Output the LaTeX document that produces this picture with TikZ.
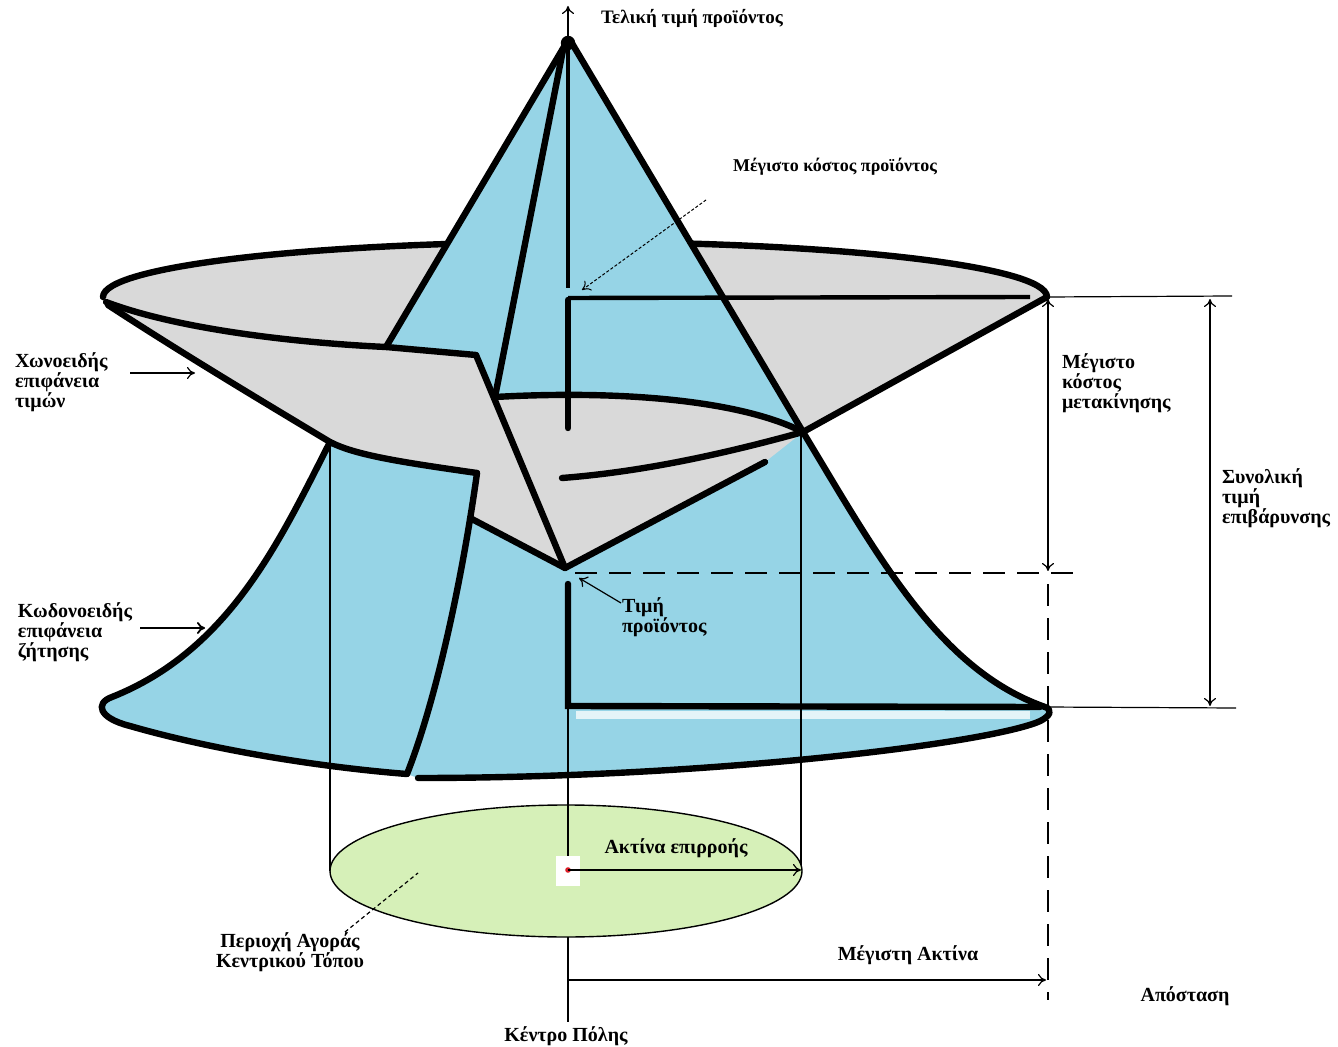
\documentclass[tikz,border=0pt]{standalone}
\usepackage{fontspec}
\setmainfont{Liberation Serif}
\usetikzlibrary{arrows.meta}
\definecolor{coneblue}{RGB}{150,212,230}
\definecolor{fungray}{RGB}{217,217,217}
\definecolor{areagreen}{RGB}{214,240,184}
\definecolor{dotred}{RGB}{220,30,40}
\begin{document}
\begin{tikzpicture}[x=0.5pt,y=-0.5pt,
  every node/.style={inner sep=0pt, outer sep=0pt},
  lbl/.style={font=\bfseries\fontsize{10}{10}\selectfont},
  lblL/.style={lbl, align=left, anchor=west},
  lblC/.style={lbl, align=center},
  heavy/.style={line width=3.2pt, line cap=round, line join=round},
  fine/.style={line width=0.6pt},
  opentip/.style={-{To[length=4pt,width=6pt]}},
  bothtip/.style={{To[length=4pt,width=6pt]}-{To[length=4pt,width=6pt]}},
  longdash/.style={dash pattern=on 11pt off 6pt},
]
\fill[white] (0,0) rectangle (1338,1047);
\useasboundingbox (0,0) rectangle (1338,1047);

% key points
\coordinate (apex) at (568,40);
\coordinate (Ltip) at (103,297);
\coordinate (Rtip) at (1047,297);
\coordinate (A1end) at (386,347);
\coordinate (notch) at (476,355);
\coordinate (L1start) at (495,397);
\coordinate (Rjoint) at (803,432);
\coordinate (bottom) at (565,568);
\coordinate (panelTR) at (477,473);
\coordinate (panelTL) at (330,442);
\coordinate (L5start) at (470,518);
\coordinate (L3start) at (765,462);
\coordinate (panelBR) at (407,774);
\coordinate (bellB) at (418,778);
\coordinate (bellR) at (1045,707);
\coordinate (center) at (568,870);

% bell (demand surface)
\fill[coneblue] (panelTL) .. controls (280,540) and (230,650) .. (112,697)
  .. controls (95,703) and (98,718) .. (130,726)
  .. controls (220,752) and (330,768) .. (panelBR) -- (bellB)
  .. controls (700,778) and (980,745) .. (1038,722)
  .. controls (1052,716) and (1052,709) .. (bellR)
  .. controls (940,670) and (880,560) .. (Rjoint) -- cycle;
% pale band below the product price level
\fill[white, opacity=0.75] (576,711) rectangle (1030,719);

% funnel (price surface)
\fill[fungray] (Ltip) .. controls (103,266) and (314,242) .. (575,242)
  .. controls (836,242) and (1047,266) .. (Rtip) -- (Rjoint) -- (L3start)
  -- (bottom) -- (L5start) -- (panelTR)
  .. controls (400,462) and (355,455) .. (panelTL)
  .. controls (260,400) and (180,352) .. (108,305) -- cycle;

% rim of the funnel
\draw[heavy] (Ltip) .. controls (103,266) and (314,242) .. (575,242)
  .. controls (836,242) and (1047,266) .. (Rtip) -- (Rjoint);

% cone
\fill[coneblue] (apex) -- (A1end) -- (notch) -- (L1start)
  .. controls (620,390) and (740,400) .. (Rjoint) -- cycle;

% funnel inner lines
\draw[heavy] (106,302) .. controls (180,330) and (300,343) .. (A1end) -- (notch);
\draw[heavy] (108,305) .. controls (180,352) and (260,400) .. (panelTL);
\draw[heavy] (panelTL) .. controls (355,455) and (400,462) .. (panelTR);
\draw[heavy] (notch) -- (bottom);
\draw[heavy] (L5start) -- (bottom);
\draw[heavy] (L3start) -- (bottom);
\draw[heavy] (L1start) .. controls (620,390) and (740,400) .. (Rjoint);
\draw[heavy] (Rjoint) .. controls (720,455) and (640,472) .. (562,478);

% cone lines
\draw[heavy] (apex) -- (A1end);
\draw[heavy] (563,50) -- (L1start);
\draw[heavy] (570,40) -- (Rjoint);
\draw[line width=2.4pt] (apex) -- (568,288);
\draw[heavy] (568,300) -- (568,428);
\draw[line width=2.2pt] (568,298) -- (1030,297);
\fill (568,43) circle[radius=3.6pt];

% bell outlines
\draw[heavy] (panelTL) .. controls (280,540) and (230,650) .. (112,697)
  .. controls (95,703) and (98,718) .. (130,726)
  .. controls (220,752) and (330,768) .. (panelBR);
\draw[heavy] (bellB) .. controls (700,778) and (980,745) .. (1038,722)
  .. controls (1052,716) and (1052,709) .. (bellR)
  .. controls (940,670) and (880,560) .. (Rjoint);
\draw[heavy] (panelTR) .. controls (465,560) and (440,690) .. (panelBR);

% product price L
\draw[heavy, line join=miter] (568,584) -- (568,706) -- (1040,707);

% axis arrow to the top
\draw[fine, opentip] (apex) -- (568,6);

% dashed levels
\draw[line width=0.8pt, longdash] (575,573) -- (1075,573);
\draw[line width=1.3pt, longdash] (1048,584) -- (1048,1000);

% dimension lines
\draw[fine] (Rtip) -- (1232,296);
\draw[fine] (bellR) -- (1236,708);
\draw[fine, bothtip] (1048,299) -- (1048,571);
\draw[fine, bothtip] (1210,299) -- (1210,706);

% projections to the market area
\draw[fine] (panelTL) -- (330,871);
\draw[fine] (801,434) -- (801,871);
\draw[fill=areagreen, line width=0.7pt] (566,871) ellipse [x radius=118pt, y radius=33pt];
\draw[fine] (568,706) -- (center);
\fill[white] (556,856) rectangle (580,886);
\fill[dotred] (center) circle[radius=1.4pt];
\draw[fine, opentip] (center) -- (801,870);
\draw[fine] (568,937) -- (568,1022);
\draw[fine, opentip] (568,980) -- (1046,980);

% labels
\node[lbl, font=\bfseries\fontsize{9.5}{10}\selectfont] (top) at (692,18) {Τελική τιμή προϊόντος};
\node[lbl, font=\bfseries\fontsize{9}{10}\selectfont] (maxprod) at (835,167) {Μέγιστο κόστος προϊόντος};
\draw[line width=0.5pt, dash pattern=on 1.5pt off 1pt, opentip] (706,200) -- (582,290);

\node[lblL] (funlbl) at (15,382) {Χωνοειδής\\επιφάνεια\\τιμών};
\coordinate (funA) at (130,373);
\coordinate (funB) at (195,373);
\draw[fine, opentip] (funA) -- (funB);

\node[lblL] (belllbl) at (18,632) {Κωδονοειδής\\επιφάνεια\\ζήτησης};
\coordinate (bellA) at (140,628);
\coordinate (bellC) at (205,628);
\draw[line width=0.9pt, opentip] (bellA) -- (bellC);

\node[lblL] (pricelbl) at (622,617) {Τιμή\\προϊόντος};
\draw[fine, opentip] (621,603) -- (579,578);

\node[lblL] (movelbl) at (1062,383) {Μέγιστο\\κόστος\\μετακίνησης};
\node[lblL] (totlbl) at (1222,498) {Συνολική\\τιμή\\επιβάρυνσης};

\node[lblC] (radlbl) at (676,848) {Ακτίνα επιρροής};
\node[lblC] (arealbl) at (290,952) {Περιοχή Αγοράς\\Κεντρικού Τόπου};
\draw[fine, dash pattern=on 2pt off 1.5pt] (345,932) -- (418,873);
\node[lblC] (maxrad) at (908,955) {Μέγιστη Ακτίνα};
\node[lblC] (dist) at (1185,996) {Απόσταση};
\node[lblC] (city) at (566,1036) {Κέντρο Πόλης};
\end{tikzpicture}
\end{document}
